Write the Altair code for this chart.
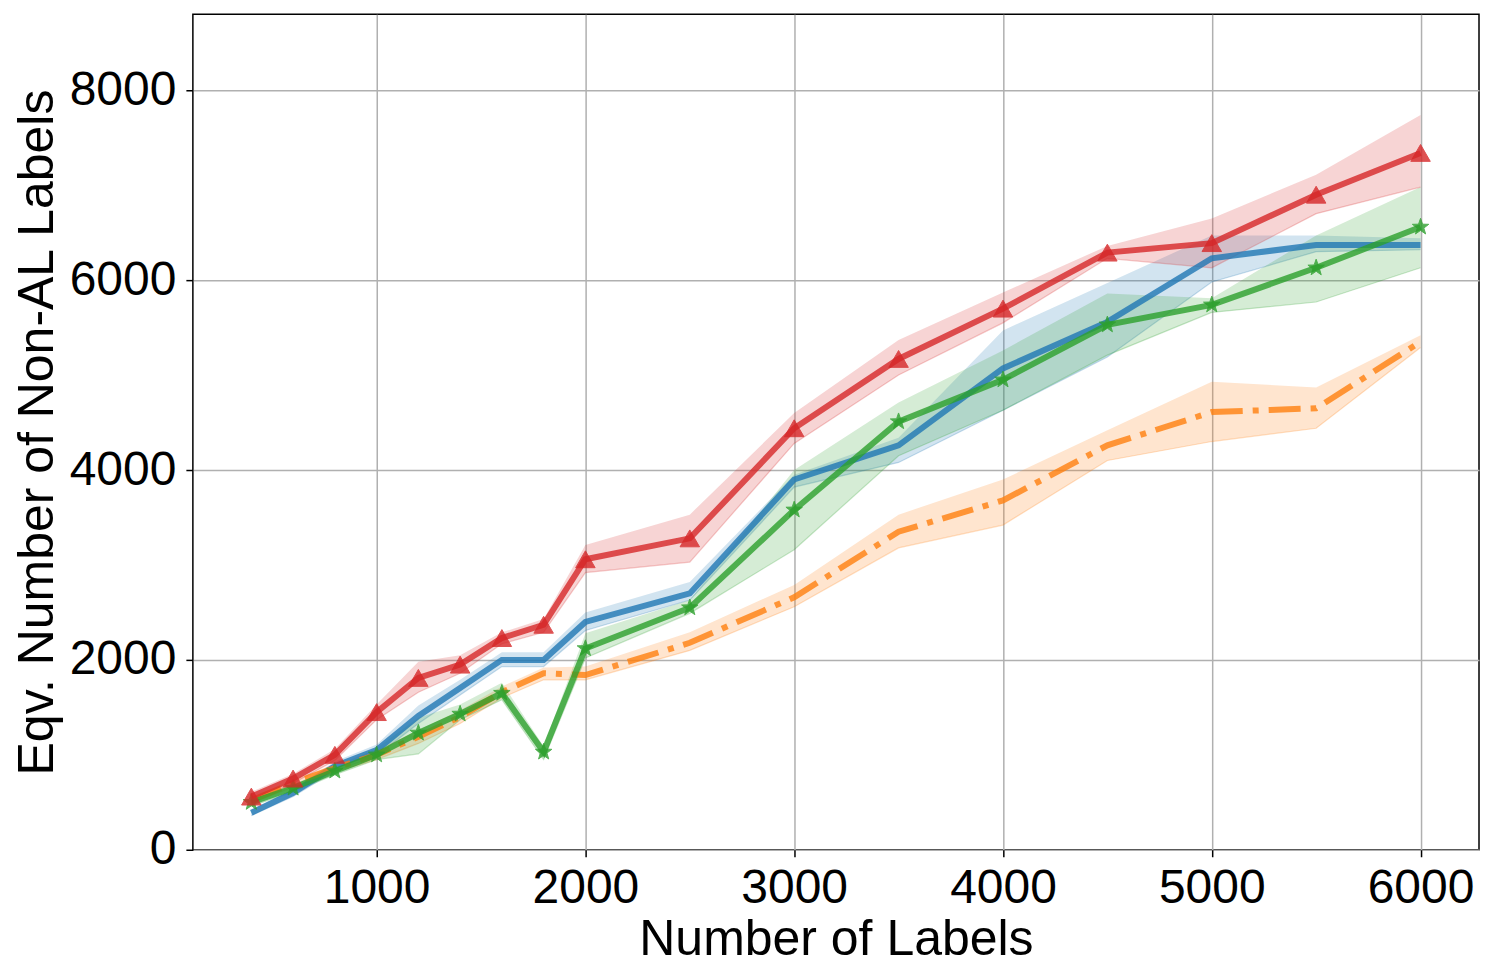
import math
import altair as alt
import pandas as pd

x_vals = [400, 600, 800, 1000, 1200, 1400, 1600, 1800, 2000, 2500, 3000, 3500, 4000, 4500, 5000, 5500, 6000]

blue = [390, 600, 880, 1050, 1410, 1705, 2000, 2000, 2400, 2700, 3900, 4260, 5070, 5560, 6230, 6370, 6370]
blue_lo = [360, 560, 830, 990, 1330, 1630, 1930, 1930, 2310, 2630, 3820, 4080, 4630, 5190, 5980, 6300, 6320]
blue_hi = [420, 640, 930, 1110, 1520, 1790, 2080, 2080, 2500, 2820, 3950, 4340, 5470, 5970, 6470, 6470, 6440]

orange = [520, 700, 860, 1000, 1190, 1400, 1660, 1860, 1840, 2180, 2660, 3350, 3680, 4260, 4610, 4650, 5350]
orange_lo = [490, 660, 820, 950, 1120, 1330, 1600, 1790, 1790, 2100, 2560, 3180, 3420, 4100, 4300, 4440, 5290]
orange_hi = [550, 740, 900, 1050, 1260, 1470, 1720, 1920, 1930, 2290, 2790, 3530, 3900, 4420, 4930, 4870, 5420]

green = [500, 650, 830, 1000, 1230, 1430, 1650, 1030, 2120, 2550, 3580, 4510, 4950, 5530, 5740, 6130, 6560]
green_lo = [460, 610, 790, 950, 1010, 1370, 1580, 950, 2020, 2490, 3160, 4150, 4630, 5210, 5660, 5770, 6130]
green_hi = [540, 690, 870, 1070, 1390, 1530, 1760, 1090, 2280, 2630, 4000, 4710, 5260, 5860, 5810, 6470, 6980]

red = [560, 750, 1000, 1450, 1810, 1950, 2230, 2370, 3060, 3280, 4440, 5170, 5700, 6290, 6390, 6900, 7340]
red_lo = [510, 700, 940, 1370, 1660, 1860, 2170, 2290, 2920, 3030, 4280, 5000, 5550, 6230, 6130, 6700, 6980]
red_hi = [610, 800, 1060, 1530, 1980, 2050, 2290, 2430, 3210, 3530, 4600, 5370, 5870, 6360, 6650, 7110, 7740]

x_ticks = [1000, 2000, 3000, 4000, 5000, 6000]
y_ticks = [0, 2000, 4000, 6000, 8000]

# star path in [-1, 1] box
pts = []
for k in range(10):
    ang = math.radians(-90 + 36 * k)
    r = 1.0 if k % 2 == 0 else 0.40
    pts.append(f"{r*math.cos(ang):.3f},{r*math.sin(ang):.3f}")
star_path = "M" + " L".join(pts) + " Z"

series = [
    ("blue", blue, blue_lo, blue_hi, "#1f77b4", None, None),
    ("orange", orange, orange_lo, orange_hi, "#ff7f0e", [32, 10, 6, 10], None),
    ("green", green, green_lo, green_hi, "#2ca02c", None, (star_path, 300)),
    ("red", red, red_lo, red_hi, "#d62728", None, ("triangle-up", 380)),
]

xscale = alt.Scale(domain=[120, 6280], nice=False, zero=False)
yscale = alt.Scale(domain=[0, 8800], nice=False)

xaxis = alt.Axis(values=x_ticks, format="d", title="Number of Labels", grid=True,
                 labelFontSize=48, titleFontSize=50, labelPadding=8, titlePadding=2,
                 tickSize=7, tickWidth=1.5, tickColor="black", domain=False,
                 labelColor="black", titleColor="black", titleFontWeight="normal",
                 gridColor="#b0b0b0", gridWidth=1.5, labelFlush=False)
yaxis = alt.Axis(values=y_ticks, format="d", title="Eqv. Number of Non-AL Labels", grid=True,
                 labelFontSize=48, titleFontSize=50, labelPadding=10, titlePadding=7,
                 tickSize=7, tickWidth=1.5, tickColor="black", domain=False,
                 labelColor="black", titleColor="black", titleFontWeight="normal",
                 gridColor="#b0b0b0", gridWidth=1.5, labelFlush=False)

X = alt.X("x:Q", scale=xscale, axis=xaxis)

layers = []
for i, (name, v, lo, hi, col, dash, marker) in enumerate(series):
    df = pd.DataFrame({"x": x_vals, "y": v, "lo": lo, "hi": hi})
    band = alt.Chart(df).mark_area(color=col, opacity=0.2,
                                   line={"color": col, "strokeWidth": 1.2, "opacity": 0.25}).encode(
        x=X,
        y=alt.Y("lo:Q", scale=yscale, axis=yaxis),
        y2="hi:Q",
    )
    layers.append(band)
for i, (name, v, lo, hi, col, dash, marker) in enumerate(series):
    df = pd.DataFrame({"x": x_vals, "y": v, "lo": lo, "hi": hi})
    base = alt.Chart(df)
    line_kwargs = dict(color=col, strokeWidth=6, opacity=0.8)
    if dash:
        line_kwargs["strokeDash"] = dash
    line = base.mark_line(**line_kwargs).encode(
        x=X,
        y=alt.Y("y:Q", scale=yscale, axis=yaxis),
    )
    layers.append(line)
    if marker:
        pt = base.mark_point(shape=marker[0], size=marker[1], filled=True, color=col,
                             opacity=0.8, stroke=col, strokeWidth=1).encode(
            x=X,
            y=alt.Y("y:Q", scale=yscale, axis=yaxis),
        )
        layers.append(pt)

chart = alt.layer(*layers).properties(
    width=1287, height=836,
    autosize=alt.AutoSizeParams(type="none"),
    padding={"left": 185, "top": 6, "right": 8, "bottom": 120},
).configure_view(stroke="black", strokeWidth=1.5).configure_axis(
    labelFont="Liberation Sans", titleFont="Liberation Sans"
)

chart.save("out.html", embed_options={"renderer": "svg", "actions": False})
